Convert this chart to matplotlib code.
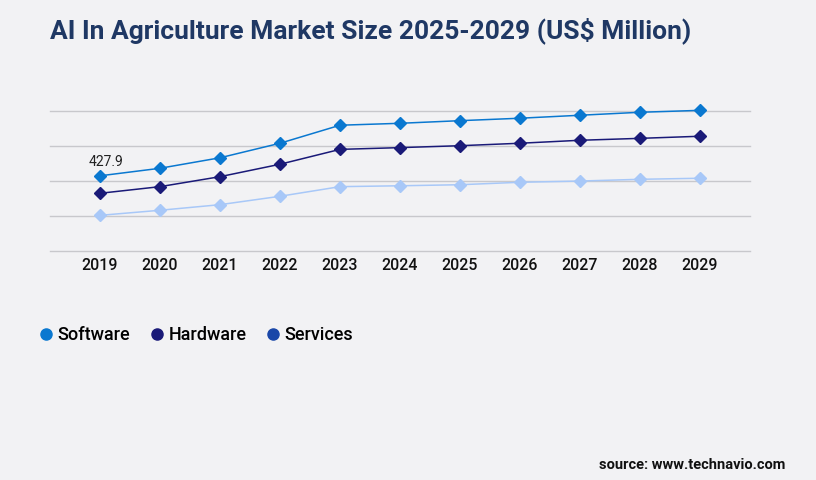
import matplotlib
matplotlib.use("Agg")
import matplotlib.pyplot as plt
from matplotlib.lines import Line2D

years = [2019, 2020, 2021, 2022, 2023, 2024, 2025, 2026, 2027, 2028, 2029]
software = [427.9, 471, 531, 614, 717, 728, 743, 757, 774, 791, 802]
hardware = [328, 366, 423, 494, 579, 589, 600, 614, 631, 642, 654]
services = [202, 231, 263, 311, 366, 371, 377, 391, 398, 408, 414]
series_names = ["Software", "Hardware", "Services"]
line_colors = ["#0a78d0", "#1a1a78", "#a8c8f8"]
legend_colors = ["#0a78d0", "#1a1a78", "#1a47a8"]
grid_values = [0, 200, 400, 600, 800]

bg = "#f2f2f4"
fig = plt.figure(figsize=(8.16, 4.8), dpi=100, facecolor=bg)

# axes placed in pixels to match the layout
W, H = 816, 480
x0, x1 = 50, 750
y_zero, y_top = 250.7, 103.7
ax = fig.add_axes([x0 / W, (H - y_zero) / H, (x1 - x0) / W, (y_zero - y_top) / H])
ax.set_facecolor(bg)

for vals, col in zip([software, hardware, services], line_colors):
    ax.plot(years, vals, color=col, lw=1.1, marker="D", ms=6.5, mec=col, mfc=col, zorder=3, clip_on=False)

ax.annotate("427.9", (years[0], software[0]), xytext=(-8, 7), textcoords="offset points",
            fontsize=10, family="Roboto", color="#222222")

ax.set_xlim(2019 - 50 / 60, 2029 + 50 / 60)
ax.set_ylim(0, 840)
for g in grid_values:
    ax.axhline(g, color="#c8c8cc", lw=1, zorder=1, clip_on=False)
ax.set_yticks([])
ax.set_xticks(years)
ax.set_xticklabels([str(y) for y in years], fontsize=11.5, family="Roboto", fontweight="medium", color="#111111")
ax.tick_params(axis="x", length=0, pad=5)
for s in ax.spines.values():
    s.set_visible(False)

fig.text(50 / W, 1 - 31 / H, "AI In Agriculture Market Size 2025-2029 (US$ Million)",
         fontsize=19, family="Roboto", fontweight="bold", color="#1f3864", va="center", ha="left")

handles = [Line2D([], [], ls="none", marker="o", ms=8, color=c) for c in legend_colors]
fig.legend(handles, series_names, loc="center left", bbox_to_anchor=(19 / W, 1 - 335 / H),
           ncol=3, frameon=False, prop={"family": "Roboto", "size": 13, "weight": "medium"},
           handletextpad=0.05, columnspacing=0.85, handlelength=1.2)

fig.text(785 / W, 1 - 465 / H, "source: www.technavio.com", fontsize=10.5, family="Roboto",
         fontweight="bold", color="#111111", ha="right", va="center")

fig.savefig("out.png", dpi=100, facecolor=bg)
